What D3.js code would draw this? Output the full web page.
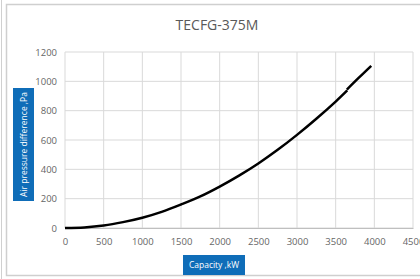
<!DOCTYPE html>
<html>
<head>
<meta charset="utf-8">
<script src="https://cdn.jsdelivr.net/npm/d3@7"></script>
<style>
  body { margin: 0; background: #fff; }
  svg text { font-family: "Open Sans", "Liberation Sans", sans-serif; }
</style>
</head>
<body>
<div id="chart"></div>
<script>
// values
const capacity = [0, 250, 500, 750, 1000, 1250, 1500, 1750, 2000, 2250, 2500, 2750, 3000, 3250, 3500, 3650];
const pressure = [0, 4, 17, 40, 70, 110, 160, 215, 282, 357, 440, 533, 635, 745, 862, 938];
const capacityTail = [3645, 3800, 3960];
const pressureTail = [944, 1025, 1106];
const xTicks = [0, 500, 1000, 1500, 2000, 2500, 3000, 3500, 4000, 4500];
const yTicks = [0, 200, 400, 600, 800, 1000, 1200];

const W = 420, H = 279;
const margin = { top: 52, right: 7, bottom: 51, left: 65 };
const width = W - margin.left - margin.right,
    height = H - margin.top - margin.bottom;

const svg = d3.select("#chart").append("svg")
    .attr("width", W)
    .attr("height", H);

// chart frame
svg.append("line").attr("x1", 1.5).attr("x2", 1.5).attr("y1", 0).attr("y2", H)
    .style("stroke", "#d0d0d0");
svg.append("rect")
    .attr("x", 6.5).attr("y", 4.5)
    .attr("width", 430).attr("height", 271)
    .style("fill", "none").style("stroke", "#cfcfcf").style("stroke-width", 1.5);

const g = svg.append("g")
    .attr("transform", `translate(${margin.left},${margin.top})`);

const x = d3.scaleLinear().domain([0, 4500]).range([0, width]);
const y = d3.scaleLinear().domain([0, 1200]).range([height, 0]);

// grid
g.append("g")
    .selectAll("line")
    .data(xTicks)
    .enter().append("line")
    .attr("x1", d => x(d)).attr("x2", d => x(d))
    .attr("y1", 0).attr("y2", height)
    .style("stroke", "#d9d9d9");

g.append("g")
    .selectAll("line")
    .data(yTicks)
    .enter().append("line")
    .attr("x1", 0).attr("x2", width)
    .attr("y1", d => y(d)).attr("y2", d => y(d))
    .style("stroke", "#d9d9d9");

// axes
const xAxis = g.append("g")
    .attr("transform", `translate(0,${height})`)
    .call(d3.axisBottom(x).tickValues(xTicks).tickSize(0).tickPadding(10).tickFormat(d3.format("d")));
xAxis.select(".domain").style("stroke", "#bfbfbf");

const yAxis = g.append("g")
    .call(d3.axisLeft(y).tickValues(yTicks).tickSize(0).tickPadding(8).tickFormat(d3.format("d")));
yAxis.select(".domain").remove();

svg.selectAll(".tick text")
    .style("fill", "#666")
    .style("font-size", "9.5px");

// curve
const line = d3.line()
    .x(d => x(d[0]))
    .y(d => y(d[1]))
    .curve(d3.curveCatmullRom);

g.append("path")
    .datum(d3.zip(capacity, pressure))
    .attr("d", line)
    .style("fill", "none")
    .style("stroke", "#000")
    .style("stroke-width", 2.5);

g.append("path")
    .datum(d3.zip(capacityTail, pressureTail))
    .attr("d", line)
    .style("fill", "none")
    .style("stroke", "#000")
    .style("stroke-width", 2.5);

// title
svg.append("text")
    .attr("x", 217).attr("y", 30)
    .attr("text-anchor", "middle")
    .style("fill", "#595959")
    .style("font-size", "14px")
    .text("TECFG-375M");

// y axis title box
svg.append("rect")
    .attr("x", 13).attr("y", 88)
    .attr("width", 21).attr("height", 113)
    .style("fill", "#0f6db8");
svg.append("text")
    .attr("transform", "translate(27,144.5) rotate(-90)")
    .attr("text-anchor", "middle")
    .style("fill", "#fff")
    .style("font-size", "8.5px")
    .text("Air pressure difference ,Pa");

// x axis title box
svg.append("rect")
    .attr("x", 183).attr("y", 255)
    .attr("width", 62).attr("height", 20)
    .style("fill", "#0f6db8");
svg.append("text")
    .attr("x", 214).attr("y", 268)
    .attr("text-anchor", "middle")
    .style("fill", "#fff")
    .style("font-size", "8.5px")
    .text("Capacity ,kW");
</script>
</body>
</html>
